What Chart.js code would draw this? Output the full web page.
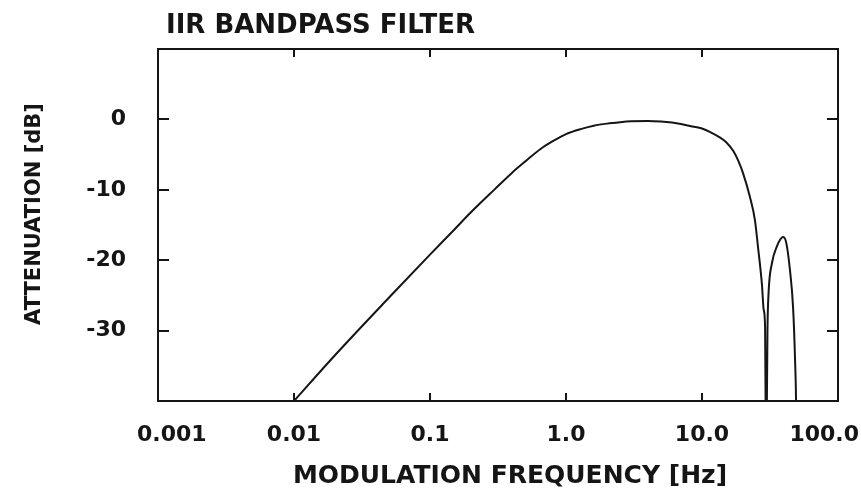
<!DOCTYPE html>
<html>
<head>
<meta charset="utf-8">
<script src="https://cdn.jsdelivr.net/npm/chart.js@4.4.1/dist/chart.umd.min.js"></script>
<style>
  html, body { margin: 0; padding: 0; background: #fff; }
</style>
</head>
<body>
<canvas id="myCanvas" width="861" height="489"></canvas>
<script>
// values
const freqHz = [0.01, 0.02, 0.05, 0.1, 0.15, 0.2, 0.3, 0.4, 0.5, 0.65, 0.8, 1.0, 1.3, 1.6, 2.0, 2.5, 3.0, 4.0,
  5.0, 6.0, 7.0, 8.5, 10, 11.5, 13.6, 15, 17, 18.5, 20, 22.5, 24.5, 25.8, 27.6, 28.4, 29.1, 29.35, 29.6,
  30.0, 30.3, 30.8, 32.7, 35.6, 37.5, 39.4, 41.5, 44.4, 46.7, 48.3, 49.3, 50];
const gainDb = [-40, -33.5, -25.3, -19.2, -15.7, -13.2, -9.9, -7.6, -6.0, -4.2, -3.1, -2.1, -1.35, -0.9, -0.6, -0.4, -0.28, -0.22,
  -0.3, -0.45, -0.65, -1.0, -1.3, -1.8, -2.6, -3.2, -4.5, -5.9, -7.6, -11.0, -14.3, -18.1, -23.5, -27, -29.5, -40, -60,
  -40, -30, -25, -20.4, -18.0, -17.1, -16.7, -17.4, -21.5, -26.6, -34, -42, -60];

const xTicks = [0.001, 0.01, 0.1, 1, 10, 100];
const xTickLabels = ["0.001", "0.01", "0.1", "1.0", "10.0", "100.0"];
const yTicks = [0, -10, -20, -30];

const FONT = "'DejaVu Sans', 'Liberation Sans', sans-serif";
const INK = "#151515";

// box, inward ticks, x labels and titles
const framePlugin = {
  id: "frame",
  afterDraw(chart) {
    const { ctx, chartArea: a, scales: { x, y } } = chart;
    ctx.save();
    ctx.strokeStyle = INK;
    ctx.lineWidth = 2;
    ctx.strokeRect(a.left, a.top, a.right - a.left, a.bottom - a.top);

    ctx.beginPath();
    yTicks.forEach(v => {
      const py = Math.round(y.getPixelForValue(v));
      ctx.moveTo(a.left, py); ctx.lineTo(a.left + 11, py);
      ctx.moveTo(a.right, py); ctx.lineTo(a.right - 11, py);
    });
    xTicks.slice(1, -1).forEach(v => {
      const px = Math.round(x.getPixelForValue(v));
      ctx.moveTo(px, a.bottom); ctx.lineTo(px, a.bottom - 8);
      ctx.moveTo(px, a.top); ctx.lineTo(px, a.top + 8);
    });
    ctx.stroke();

    ctx.fillStyle = INK;
    ctx.textBaseline = "alphabetic";
    ctx.textAlign = "left";
    ctx.font = "bold 22px " + FONT;
    xTicks.forEach((v, i) => {
      const t = xTickLabels[i];
      const w = ctx.measureText(t).width;
      let left = x.getPixelForValue(v) - w / 2;
      left = Math.min(Math.max(left, a.left - 21), chart.width - 2 - w);
      ctx.fillText(t, left, a.bottom + 40);
    });

    ctx.font = "bold 26px " + FONT;
    ctx.fillText("IIR BANDPASS FILTER", a.left + 8, 33);

    ctx.font = "bold 25px " + FONT;
    ctx.textAlign = "center";
    ctx.fillText("MODULATION FREQUENCY [Hz]", (a.left + a.right) / 2 + 12, 483);

    ctx.font = "bold 21px " + FONT;
    ctx.translate(40, 214);
    ctx.rotate(-Math.PI / 2);
    ctx.fillText("ATTENUATION [dB]", 0, 0);
    ctx.restore();
  }
};

const canvas = document.getElementById("myCanvas");
const ctx = canvas.getContext("2d");

new Chart(ctx, {
  type: "line",
  data: {
    datasets: [
      {
        data: freqHz.map((f, i) => ({ x: f, y: gainDb[i] })),
        borderColor: INK,
        borderWidth: 2,
        pointRadius: 0,
        cubicInterpolationMode: "monotone",
        fill: false,
      },
    ],
  },
  options: {
    responsive: false,
    animation: false,
    layout: { padding: { top: 49, right: 23, left: 0, bottom: 0 } },
    plugins: { legend: { display: false }, tooltip: { enabled: false } },
    scales: {
      x: {
        type: "logarithmic",
        min: 0.001,
        max: 100,
        grid: { display: false },
        border: { display: false },
        ticks: { display: false },
        afterFit: s => { s.height = 88; },
      },
      y: {
        type: "linear",
        min: -40,
        max: 10,
        grid: { display: false },
        border: { display: false },
        afterBuildTicks: s => { s.ticks = yTicks.map(v => ({ value: v })); },
        ticks: {
          color: INK,
          padding: 24,
          font: { family: FONT, size: 22, weight: "bold" },
        },
        afterFit: s => { s.width = 158; },
      },
    },
  },
  plugins: [framePlugin],
});
</script>
</body>
</html>
